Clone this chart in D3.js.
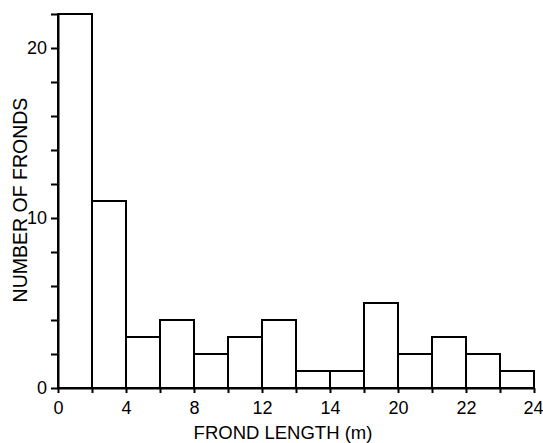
<!DOCTYPE html>
<html>
<head>
<meta charset="utf-8">
<script src="https://cdn.jsdelivr.net/npm/d3@7"></script>
<style>
  html, body { margin: 0; padding: 0; background: #fff; }
  svg { display: block; }
  text { font-family: "Liberation Sans", Arial, Helvetica, sans-serif; fill: #000; }
</style>
</head>
<body>
<svg id="chart" width="543" height="443"></svg>
<script>
// Frond counts per length class (14 equal-width classes)
const counts = [22, 11, 3, 4, 2, 3, 4, 1, 1, 5, 2, 3, 2, 1];
// Labels printed under every second class boundary
const xTickLabels = ["0", "4", "8", "12", "14", "20", "22", "24"];
const yTickValues = [0, 2, 4, 6, 8, 10, 12, 14, 16, 18, 20, 22];
const yTickLabels = [0, 10, 20];
const xTitle = "FROND LENGTH (m)";
const yTitle = "NUMBER OF FRONDS";

const svg = d3.select("#chart");
const margin = { left: 58, right: 9, top: 14, bottom: 55 };
const W = 543, H = 443;

const x = d3.scaleLinear()
  .domain([0, counts.length])
  .range([margin.left, W - margin.right]);
const y = d3.scaleLinear()
  .domain([0, 22])
  .range([H - margin.bottom, margin.top]);

// Histogram bars
svg.append("g")
  .selectAll("rect")
  .data(counts)
  .join("rect")
  .attr("x", (d, i) => x(i))
  .attr("y", d => y(d))
  .attr("width", (d, i) => x(i + 1) - x(i))
  .attr("height", d => y(0) - y(d))
  .attr("fill", "#fff")
  .attr("stroke", "#000")
  .attr("stroke-width", 2);

// X axis: a tick at every class boundary, a label at every second one
const xAxis = d3.axisBottom(x)
  .tickValues(d3.range(0, counts.length + 1))
  .tickFormat(i => (i % 2 === 0 ? xTickLabels[i / 2] : ""))
  .tickSize(5)
  .tickSizeOuter(0)
  .tickPadding(8);

const gx = svg.append("g")
  .attr("transform", `translate(0,${y(0)})`)
  .call(xAxis);
gx.select(".domain").attr("stroke", "#000").attr("stroke-width", 2);
gx.selectAll(".tick line").attr("stroke", "#000").attr("stroke-width", 2);
gx.selectAll(".tick text")
  .attr("font-size", 18)
  .attr("dx", i => (i === counts.length ? -1 : 0));
gx.selectAll(".tick").filter(i => i % 2 === 1).select("text").remove();

// Y axis
const yAxis = d3.axisLeft(y)
  .tickValues(yTickValues)
  .tickFormat(v => (yTickLabels.includes(v) ? String(v) : ""))
  .tickSize(7)
  .tickSizeOuter(0)
  .tickPadding(4);

const gy = svg.append("g")
  .attr("transform", `translate(${x(0)},0)`)
  .call(yAxis);
gy.select(".domain").attr("stroke", "#000").attr("stroke-width", 2);
gy.selectAll(".tick line").attr("stroke", "#000").attr("stroke-width", 2);
gy.selectAll(".tick text").attr("font-size", 18);
gy.selectAll(".tick").filter(v => !yTickLabels.includes(v)).select("text").remove();

// Axis titles
svg.append("text")
  .attr("x", 283)
  .attr("y", 439)
  .attr("text-anchor", "middle")
  .attr("font-size", 18.5)
  .text(xTitle);

svg.append("text")
  .attr("transform", "translate(27,200) rotate(-90)")
  .attr("text-anchor", "middle")
  .attr("font-size", 19.5)
  .text(yTitle);
</script>
</body>
</html>
